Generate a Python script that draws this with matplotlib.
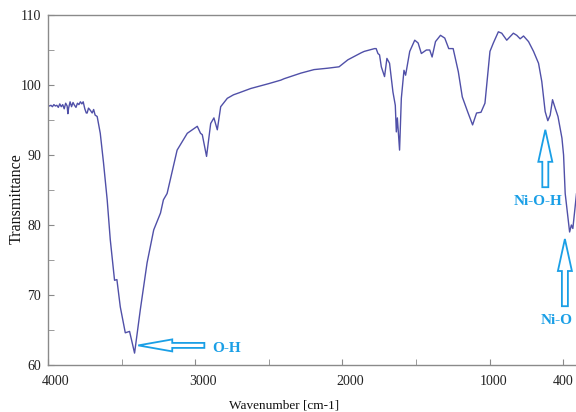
import matplotlib
matplotlib.use("Agg")
import matplotlib.pyplot as plt
import matplotlib.transforms as mtransforms
from matplotlib.patches import FancyArrow

# ---- data (FTIR spectrum) ----
wavenumber = [
    4000, 3990, 3980, 3970, 3960, 3950, 3940, 3930, 3920, 3910, 3900, 3890, 3880,
    3870, 3865, 3860, 3850, 3840, 3830, 3820, 3810, 3800, 3790, 3780, 3770, 3761,
    3750, 3740, 3734, 3725, 3713, 3700, 3690, 3680, 3666, 3645, 3623, 3598, 3577,
    3548, 3532, 3509, 3475, 3446, 3412, 3373, 3327, 3282, 3236, 3216, 3191, 3123,
    3054, 2986, 2964, 2952, 2923, 2895, 2873, 2850, 2827, 2782, 2740, 2700, 2623,
    2500, 2418, 2396, 2282, 2193, 2100, 2023, 1963, 1873, 1852, 1782, 1771, 1759,
    1748, 1736, 1714, 1698, 1680, 1657, 1641, 1634, 1627, 1612, 1600, 1582, 1571,
    1543, 1509, 1486, 1464, 1430, 1407, 1391, 1368, 1334, 1305, 1278, 1248, 1213,
    1186, 1150, 1116, 1089, 1059, 1032, 998, 975, 941, 918, 884, 839, 816, 793,
    770, 736, 702, 668, 646, 623, 605, 589, 573, 555, 536, 509, 498, 487, 457,
    445, 435, 425, 418, 410, 402,
]
transmittance = [
    97.1, 97.0, 97.1, 96.9, 97.2, 97.0, 97.1, 96.8, 97.3, 96.9, 97.2, 96.6, 97.4,
    97.0, 95.9, 96.7, 97.6, 96.9, 97.5, 97.1, 96.8, 97.4, 97.2, 97.6, 97.3, 97.6,
    96.6, 96.0, 96.0, 96.7, 96.4, 96.0, 96.5, 95.7, 95.5, 93.1, 88.9, 83.6, 77.9,
    72.1, 72.2, 68.3, 64.6, 64.8, 61.7, 67.9, 74.6, 79.3, 81.7, 83.6, 84.5, 90.7,
    93.1, 94.1, 93.1, 92.9, 89.8, 94.5, 95.3, 93.6, 96.9, 98.1, 98.6, 98.9, 99.5,
    100.2, 100.7, 100.9, 101.7, 102.2, 102.4, 102.6, 103.6, 104.6, 104.8, 105.2, 105.2, 104.5,
    104.3, 102.6, 101.2, 103.8, 103.1, 99.0, 97.1, 93.3, 95.3, 90.7, 98.1, 102.1, 101.4,
    104.8, 106.4, 106.0, 104.5, 105.0, 105.0, 104.0, 106.2, 107.1, 106.7, 105.2, 105.2, 101.9,
    98.3, 96.2, 94.3, 96.0, 96.1, 97.4, 104.8, 106.0, 107.6, 107.4, 106.4, 107.4, 107.1, 106.6,
    107.0, 106.2, 104.8, 103.1, 100.5, 96.2, 94.9, 95.7, 97.9, 96.7, 95.5, 92.4, 90.0, 84.5, 79.0,
    80.0, 79.5, 81.5, 83.0, 84.5, 83.8,
]

x_tick_values = [4000, 3000, 2000, 1000, 500]
x_tick_labels = ["4000", "3000", "2000", "1000", "400"]
x_minor_values = [3500, 2500, 1500]
y_tick_values = [60, 70, 80, 90, 100, 110]
y_minor_values = [65, 75, 85, 95, 105]

# annotations: (label, text position, arrow tail, arrow tip)
annotations = [
    ("O-H", (2788, 62.4), (2938, 62.8), (3387, 62.8)),
    ("Ni-O-H", (672, 83.3), (622, 85.4), (622, 93.6)),
    ("Ni-O", (543, 66.4), (489, 68.4), (489, 78.0)),
]

# ---- drawing ----
plt.rcParams["font.family"] = ["Liberation Serif", "DejaVu Serif"]
fig = plt.figure(figsize=(5.76, 4.12), dpi=100)
ax = fig.add_axes([48 / 576, 47 / 412, 530 / 576, 350 / 412])

line_color = "#5050a8"
ax.plot(wavenumber, transmittance, color=line_color, lw=1.0)

ax.set_xlim(4000, 400)
ax.set_ylim(60, 110)

spine_color = "#8a8a8a"
for s in ax.spines.values():
    s.set_color(spine_color)
    s.set_linewidth(1.0)

ax.set_xticks(x_tick_values, x_tick_labels)
ax.set_xticks(x_minor_values, minor=True)
ax.set_yticks(y_tick_values)
ax.set_yticks(y_minor_values, minor=True)
ax.tick_params(which="both", direction="in", length=4, color=spine_color,
               labelsize=10, labelcolor="#222222")
ax.tick_params(axis="x", which="major", pad=7)
ax.tick_params(axis="y", which="major", pad=5)

label_shifts = [8, 8, 8, 4, 0]  # pixel shifts of x tick labels seen in the reference
for lab, sh in zip(ax.get_xticklabels(), label_shifts):
    off = mtransforms.ScaledTranslation(sh / 100, 0, fig.dpi_scale_trans)
    lab.set_transform(lab.get_transform() + off)

fig.text(17 / 576, 1 - 199 / 412, "Transmittance", rotation=90,
         ha="center", va="center", fontsize=11.5, color="#111111")
fig.text(284 / 576, 1 - 406 / 412, "Wavenumber [cm-1]",
         ha="center", va="center", fontsize=9.5, color="#111111")

# pixel -> data unit conversion for arrow dimensions
x_per_px = 3600 / ax.bbox.width
y_per_px = 50 / ax.bbox.height

ann_color = "#1a9fe6"
for label, tpos, tail, tip in annotations:
    dx = tip[0] - tail[0]
    dy = tip[1] - tail[1]
    if dx == 0:  # vertical arrow: widths along x
        w, hw, hl = 6 * x_per_px, 14 * x_per_px, 32 * y_per_px
    else:        # horizontal arrow: widths along y
        w, hw, hl = 5 * y_per_px, 12 * y_per_px, 34 * x_per_px
    arr = FancyArrow(tail[0], tail[1], dx, dy, width=w, head_width=hw,
                     head_length=hl, length_includes_head=True,
                     fc="white", ec=ann_color, lw=1.3, zorder=3)
    ax.add_patch(arr)
    ax.text(tpos[0], tpos[1], label, ha="center", va="center", fontsize=11,
            fontweight="bold", color=ann_color)

fig.savefig("out.png", dpi=100, facecolor="white")
